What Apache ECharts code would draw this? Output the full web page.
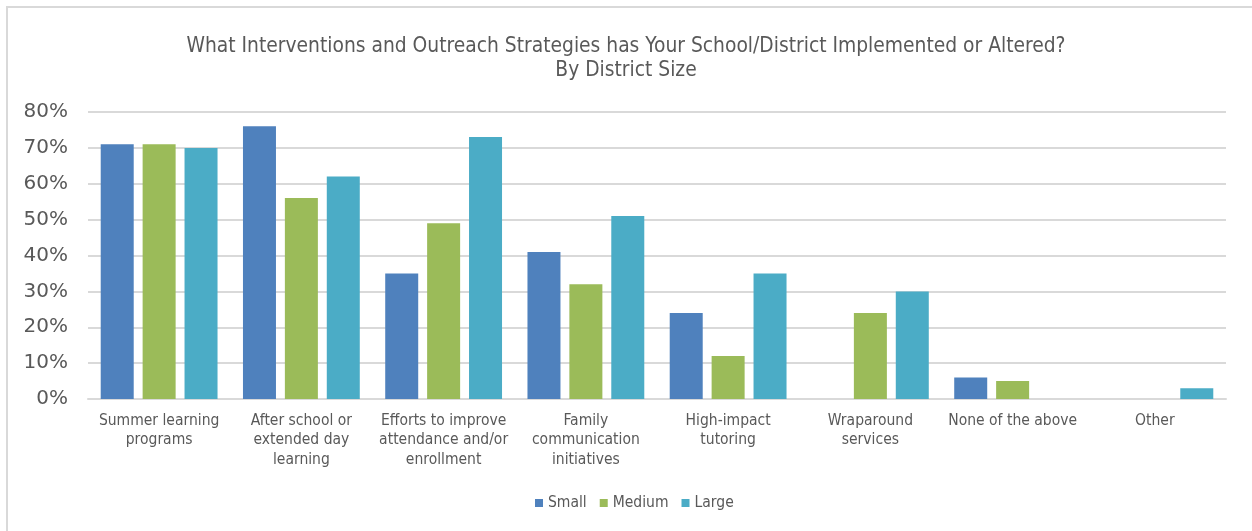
<!DOCTYPE html>
<html>
<head>
<meta charset="utf-8">
<script src="https://cdn.jsdelivr.net/npm/echarts@6/dist/echarts.min.js"></script>
<style>
  html, body { margin: 0; padding: 0; background: #fff; }
  #chart { width: 1252px; height: 531px; }
</style>
</head>
<body>
<div id="chart"></div>
<script>
const categories = [
  'Summer learning\nprograms',
  'After school or\nextended day\nlearning',
  'Efforts to improve\nattendance and/or\nenrollment',
  'Family\ncommunication\ninitiatives',
  'High-impact\ntutoring',
  'Wraparound\nservices',
  'None of the above',
  'Other'
];
const small  = [71, 76, 35, 41, 24, 0, 6, 0];
const medium = [71, 56, 49, 32, 12, 24, 5, 0];
const large  = [70, 62, 73, 51, 35, 30, 0, 3];
const seriesNames = ['Small', 'Medium', 'Large'];
const colors = ['#4F81BD', '#9BBB59', '#4BACC6'];

const FONT_C = '"DejaVu Sans Condensed", "DejaVu Sans", sans-serif';
const FONT_R = '"DejaVu Sans", sans-serif';
const TEXT = '#595959';

const chart = echarts.init(document.getElementById('chart'));
const mk = (name, data, color) => ({
  name, type: 'bar', data,
  barWidth: 33, barGap: '27%',
  itemStyle: { color },
  emphasis: { disabled: true }
});

chart.setOption({
  animation: false,
  title: {
    text: 'What Interventions and Outreach Strategies has Your School/District Implemented or Altered?\nBy District Size',
    left: 'center', top: 30,
    textStyle: { fontFamily: FONT_C, fontSize: 20.8, fontWeight: 'normal', color: TEXT, lineHeight: 24 }
  },
  legend: {
    bottom: 15, left: 530,
    itemWidth: 8, itemHeight: 8, itemGap: 13,
    icon: 'rect',
    textStyle: { fontFamily: FONT_C, fontSize: 15.5, color: TEXT }
  },
  grid: { left: 88, right: 26, top: 112, bottom: 132, containLabel: false },
  xAxis: {
    type: 'category', data: categories,
    axisLine: { lineStyle: { color: '#d9d9d9', width: 2 } },
    axisTick: { show: false },
    axisLabel: { fontFamily: FONT_C, fontSize: 15.5, color: TEXT, lineHeight: 19.5, margin: 12, interval: 0 }
  },
  yAxis: {
    type: 'value', min: 0, max: 80, interval: 10,
    axisLine: { show: false }, axisTick: { show: false },
    splitLine: { lineStyle: { color: '#d9d9d9', width: 2 } },
    axisLabel: { formatter: '{value}%', fontFamily: FONT_R, fontSize: 20, color: TEXT, margin: 20 }
  },
  graphic: [{
    type: 'rect', silent: true,
    shape: { x: 7, y: 7, width: 1260, height: 540 },
    style: { fill: 'none', stroke: '#d9d9d9', lineWidth: 2 }
  }],
  series: [
    mk(seriesNames[0], small, colors[0]),
    mk(seriesNames[1], medium, colors[1]),
    mk(seriesNames[2], large, colors[2])
  ]
});
</script>
</body>
</html>
